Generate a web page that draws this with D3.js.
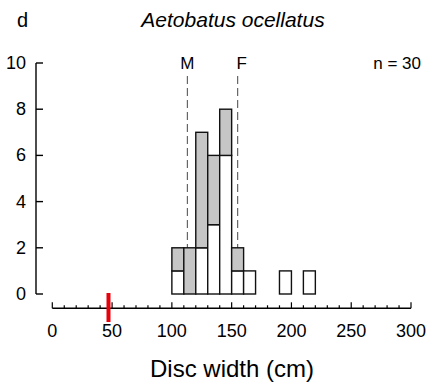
<!DOCTYPE html>
<html>
<head>
<meta charset="utf-8">
<script src="https://cdn.jsdelivr.net/npm/d3@7"></script>
<style>
  body { margin: 0; background: #fff; }
  svg { display: block; font-family: Arial, "Liberation Sans", sans-serif; }
</style>
</head>
<body>
<div id="chart-area"></div>
<script>
// data
const binStart = [100, 110, 120, 130, 140, 150, 160, 190, 210];
const binWidth = 10;
const whiteCounts = [1, 0, 2, 3, 6, 1, 1, 1, 1];
const greyCounts = [1, 2, 5, 3, 2, 1, 0, 0, 0];
const xTicks = [0, 50, 100, 150, 200, 250, 300];
const yTicks = [0, 2, 4, 6, 8, 10];
const maturity = [{ label: "M", value: 113 }, { label: "F", value: 155 }];
const redMark = 47;

const svg = d3.select("#chart-area")
  .append("svg")
    .attr("width", 427)
    .attr("height", 384);

// scales
var x = d3.scaleLinear().domain([0, 300]).range([52.3, 411]);
var y = d3.scaleLinear().domain([0, 10]).range([294, 63]);

// dashed maturity lines (behind the bars)
maturity.forEach(function(m) {
  svg.append("line")
    .attr("x1", x(m.value)).attr("x2", x(m.value))
    .attr("y1", 76).attr("y2", y(0))
    .attr("stroke", "#666")
    .attr("stroke-width", 1.2)
    .attr("stroke-dasharray", "8,4");
  svg.append("text")
    .attr("x", x(m.value) + (m.label == "F" ? 4 : 0))
    .attr("y", 69)
    .attr("text-anchor", "middle")
    .attr("font-size", 17)
    .text(m.label);
});

// stacked bars
var data = binStart.map(function(b, i) {
  return { start: b, white: whiteCounts[i], grey: greyCounts[i] };
});

var bars = svg.append("g");
data.forEach(function(d) {
  if (d.white > 0) {
    bars.append("rect")
      .attr("x", x(d.start))
      .attr("width", x(d.start + binWidth) - x(d.start))
      .attr("y", y(d.white))
      .attr("height", y(0) - y(d.white))
      .attr("fill", "#fff")
      .attr("stroke", "#111")
      .attr("stroke-width", 1.4);
  }
  if (d.grey > 0) {
    bars.append("rect")
      .attr("x", x(d.start))
      .attr("width", x(d.start + binWidth) - x(d.start))
      .attr("y", y(d.white + d.grey))
      .attr("height", y(d.white) - y(d.white + d.grey))
      .attr("fill", "#c6c6c6")
      .attr("stroke", "#111")
      .attr("stroke-width", 1.4);
  }
});

// y-axis
var yAxis = svg.append("g").attr("transform", "translate(36,0)");
yAxis.append("line")
  .attr("x1", 0).attr("x2", 0)
  .attr("y1", y(10)).attr("y2", y(0))
  .attr("stroke", "#000").attr("stroke-width", 1.4);
yTicks.forEach(function(t) {
  yAxis.append("line")
    .attr("x1", 0).attr("x2", 7)
    .attr("y1", y(t)).attr("y2", y(t))
    .attr("stroke", "#000").attr("stroke-width", 1.4);
  yAxis.append("text")
    .attr("x", -10)
    .attr("y", y(t) + 6)
    .attr("text-anchor", "end")
    .attr("font-size", 18)
    .text(t);
});

// x-axis
var axisY = 308.3;
var xAxis = svg.append("g");
xAxis.append("line")
  .attr("x1", x(0)).attr("x2", x(300))
  .attr("y1", axisY).attr("y2", axisY)
  .attr("stroke", "#000").attr("stroke-width", 1.4);
d3.range(0, 301, 10).forEach(function(t) {
  var major = t % 50 == 0;
  xAxis.append("line")
    .attr("x1", x(t)).attr("x2", x(t))
    .attr("y1", axisY).attr("y2", axisY - (major ? 6 : 3))
    .attr("stroke", "#000").attr("stroke-width", 1.2);
});
xTicks.forEach(function(t) {
  xAxis.append("text")
    .attr("x", x(t))
    .attr("y", 337)
    .attr("text-anchor", "middle")
    .attr("font-size", 18)
    .text(t);
});

// red marker
svg.append("line")
  .attr("x1", x(redMark)).attr("x2", x(redMark))
  .attr("y1", 293).attr("y2", 322)
  .attr("stroke", "#e8000b")
  .attr("stroke-width", 4);

// labels
svg.append("text")
  .attr("x", 17).attr("y", 27)
  .attr("font-size", 20)
  .text("d");

svg.append("text")
  .attr("x", 233).attr("y", 27)
  .attr("text-anchor", "middle")
  .attr("font-size", 21)
  .attr("font-style", "italic")
  .text("Aetobatus ocellatus");

svg.append("text")
  .attr("x", 421).attr("y", 69)
  .attr("text-anchor", "end")
  .attr("font-size", 17)
  .text("n = 30");

svg.append("text")
  .attr("x", 232).attr("y", 377)
  .attr("text-anchor", "middle")
  .attr("font-size", 24)
  .text("Disc width (cm)");
</script>
</body>
</html>
